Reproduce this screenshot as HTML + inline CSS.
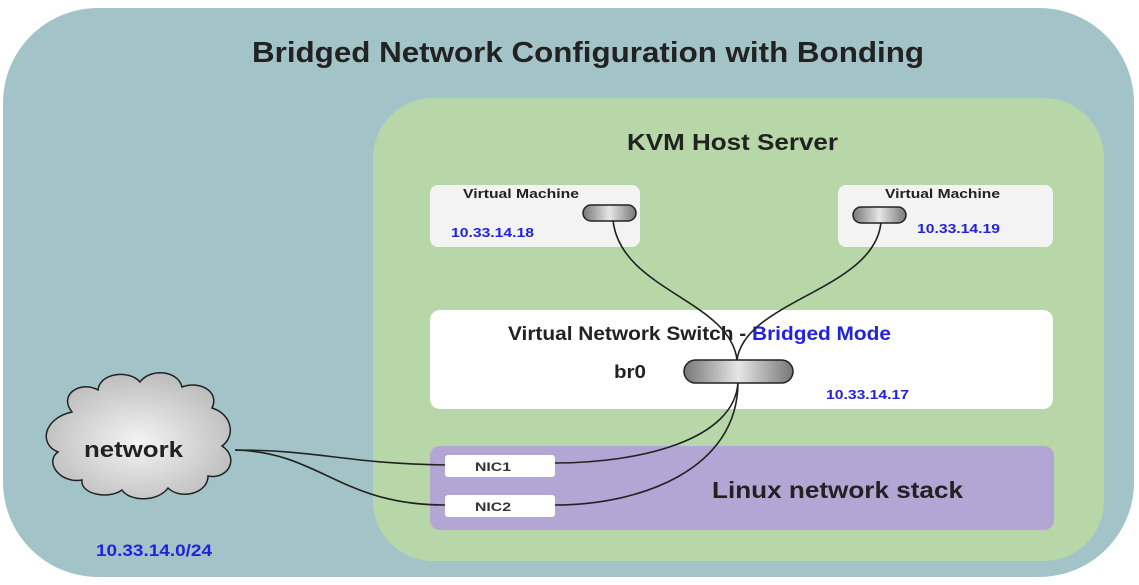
<!DOCTYPE html>
<html><head><meta charset="utf-8"><style>
body{margin:0;background:#fff;}
svg{display:block;font-family:"Liberation Sans",Arial,sans-serif;}
</style></head><body>
<svg width="1139" height="585" viewBox="0 0 1139 585">
<defs>
<linearGradient id="pill" x1="0" y1="0" x2="1" y2="0">
<stop offset="0" stop-color="#777"/><stop offset="0.5" stop-color="#e6e6e6"/><stop offset="1" stop-color="#777"/>
</linearGradient>
<radialGradient id="cloud" cx="0.5" cy="0.55" r="0.6">
<stop offset="0" stop-color="#f4f4f4"/><stop offset="1" stop-color="#b8b8b8"/>
</radialGradient>
</defs>
<rect x="3" y="8" width="1131" height="569" rx="95" fill="#a2c3c8"/>
<text x="252" y="62" font-size="29" font-weight="bold" fill="#222" textLength="672" lengthAdjust="spacingAndGlyphs">Bridged Network Configuration with Bonding</text>
<rect x="373" y="98" width="731" height="463" rx="60" fill="#b7d7a8"/>
<text x="627" y="150" font-size="23" font-weight="bold" fill="#222" textLength="211" lengthAdjust="spacingAndGlyphs">KVM Host Server</text>
<rect x="430" y="185" width="210" height="62" rx="8" fill="#f3f3f3"/>
<rect x="838" y="185" width="215" height="62" rx="8" fill="#f3f3f3"/>
<text x="463" y="198" font-size="13" font-weight="bold" fill="#222" textLength="116" lengthAdjust="spacingAndGlyphs">Virtual Machine</text>
<text x="885" y="198" font-size="13" font-weight="bold" fill="#222" textLength="115" lengthAdjust="spacingAndGlyphs">Virtual Machine</text>
<text x="451" y="237" font-size="13" font-weight="bold" fill="#2222dd" textLength="83" lengthAdjust="spacingAndGlyphs">10.33.14.18</text>
<text x="917" y="233" font-size="13" font-weight="bold" fill="#2222dd" textLength="83" lengthAdjust="spacingAndGlyphs">10.33.14.19</text>
<rect x="430" y="310" width="623" height="99" rx="10" fill="#fff"/>
<text x="508" y="340" font-size="19" font-weight="bold" fill="#222" textLength="383" lengthAdjust="spacingAndGlyphs">Virtual Network Switch - <tspan fill="#2222dd">Bridged Mode</tspan></text>
<text x="614" y="378" font-size="18" font-weight="bold" fill="#222" textLength="32" lengthAdjust="spacingAndGlyphs">br0</text>
<text x="826" y="399" font-size="13" font-weight="bold" fill="#2222dd" textLength="83" lengthAdjust="spacingAndGlyphs">10.33.14.17</text>
<rect x="430" y="446" width="624" height="84" rx="10" fill="#b3a6d5"/>
<text x="712" y="498" font-size="23" font-weight="bold" fill="#222" textLength="251" lengthAdjust="spacingAndGlyphs">Linux network stack</text>
<rect x="445" y="455" width="110" height="22" rx="3" fill="#fff"/>
<rect x="445" y="495" width="110" height="22" rx="3" fill="#fff"/>
<text x="475" y="471" font-size="12" font-weight="bold" fill="#333" textLength="36" lengthAdjust="spacingAndGlyphs">NIC1</text>
<text x="475" y="511" font-size="12" font-weight="bold" fill="#333" textLength="36" lengthAdjust="spacingAndGlyphs">NIC2</text>
<g fill="none" stroke="#222" stroke-width="1.6">
<path d="M613 220 C 620 290, 730 300, 737 360"/>
<path d="M881 222 C 875 290, 745 300, 737 360"/>
<path d="M738 382 C 735 440, 640 463, 555 463"/>
<path d="M738 382 C 738 470, 640 505, 555 505"/>
<path d="M235 450 C 320 450, 340 463, 445 465"/>
<path d="M235 450 C 320 452, 340 505, 445 505"/>
</g>
<rect x="583" y="205" width="53" height="16" rx="8" fill="url(#pill)" stroke="#222" stroke-width="1.5"/>
<rect x="853" y="207" width="53" height="16" rx="8" fill="url(#pill)" stroke="#222" stroke-width="1.5"/>
<rect x="684" y="360" width="109" height="23" rx="11.5" fill="url(#pill)" stroke="#222" stroke-width="1.5"/>
<path d="M72 412 C 58 395, 80 380, 98 390 C 100 372, 130 370, 140 382 C 150 368, 178 370, 182 387 C 200 380, 220 392, 212 408 C 232 414, 236 436, 222 446 C 240 458, 228 480, 208 476 C 208 494, 180 500, 168 488 C 158 502, 130 502, 122 490 C 108 500, 80 494, 82 480 C 60 484, 44 462, 58 452 C 38 444, 44 418, 72 412 Z" fill="url(#cloud)" stroke="#222" stroke-width="1.5"/>
<text x="84" y="457" font-size="22" font-weight="bold" fill="#222" textLength="99" lengthAdjust="spacingAndGlyphs">network</text>
<text x="96" y="556" font-size="17" font-weight="bold" fill="#2222dd" textLength="116" lengthAdjust="spacingAndGlyphs">10.33.14.0/24</text>
</svg>
</body></html>
